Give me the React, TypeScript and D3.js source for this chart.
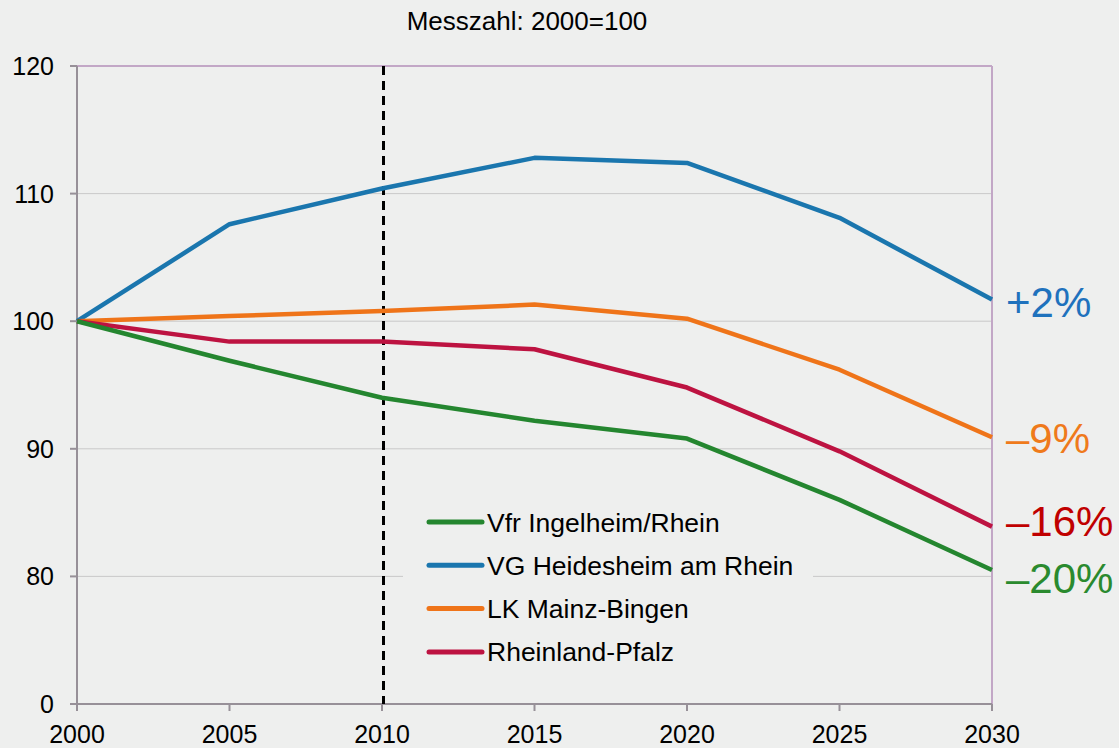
import React from "react";
import * as d3 from "d3";

const years = [2000, 2005, 2010, 2015, 2020, 2025, 2030];
const vfrIngelheim = [100, 96.9, 94.0, 92.2, 90.8, 86.0, 80.5];
const vgHeidesheim = [100, 107.6, 110.4, 112.8, 112.4, 108.1, 101.7];
const lkMainzBingen = [100, 100.4, 100.8, 101.3, 100.2, 96.2, 90.9];
const rheinlandPfalz = [100, 98.4, 98.4, 97.8, 94.8, 89.8, 83.9];
const yTickValues = [70, 80, 90, 100, 110, 120];
const yTickLabels = ["0", "80", "90", "100", "110", "120"];
const endLabels = ["\u201320%", "+2%", "\u20139%", "\u201316%"];
const seriesNames = ["Vfr Ingelheim/Rhein", "VG Heidesheim am Rhein", "LK Mainz-Bingen", "Rheinland-Pfalz"];

const series = [
  { name: seriesNames[0], values: vfrIngelheim, color: "#24862f", labelColor: "#2a8a2e", label: endLabels[0] },
  { name: seriesNames[1], values: vgHeidesheim, color: "#1a76ae", labelColor: "#1f72bd", label: endLabels[1] },
  { name: seriesNames[2], values: lkMainzBingen, color: "#ef7419", labelColor: "#ef7a1b", label: endLabels[2] },
  { name: seriesNames[3], values: rheinlandPfalz, color: "#bd1341", labelColor: "#c00000", label: endLabels[3] },
];

const labelOffsets: Record<string, number> = { "+2%": 17.5, "\u20139%": 15.5, "\u201316%": 9.5, "\u201320%": 23 };

export default function App() {
  const W = 1119, H = 748;
  const left = 77, right = 992, top = 66, bottom = 704;
  const x = d3.scaleLinear().domain([2000, 2030]).range([left, right]);
  const y = d3.scaleLinear().domain([70, 120]).range([bottom, top]);
  const line = d3.line<number>().x((_, i) => x(years[i])).y((v) => y(v));
  const font = "'Liberation Sans', Arial, sans-serif";

  return (
    <svg width={W} height={H} style={{ position: "absolute", left: 0, top: 0, background: "#eeefee" }} fontFamily={font}>
      <rect x={0} y={0} width={W} height={H} fill="#eeefee" />
      <text x={527} y={30} fontSize={26} textAnchor="middle" fill="#000">Messzahl: 2000=100</text>
      {yTickValues.slice(1, 5).map((v) => (
        <line key={v} x1={left} x2={right} y1={y(v)} y2={y(v)} stroke="#c9c9c9" strokeWidth={1} />
      ))}
      <line x1={left} x2={right} y1={top} y2={top} stroke="#c2a7c6" strokeWidth={2} />
      <line x1={right} x2={right} y1={top} y2={bottom} stroke="#c2a7c6" strokeWidth={2} />
      <line x1={left} x2={left} y1={top} y2={bottom + 7} stroke="#979098" strokeWidth={2} />
      <line x1={left - 7} x2={right} y1={bottom} y2={bottom} stroke="#979098" strokeWidth={2} />
      {yTickValues.map((v, i) => (
        <g key={v}>
          <line x1={left - 7} x2={left} y1={y(v)} y2={y(v)} stroke="#979098" strokeWidth={2} />
          <text x={54} y={y(v)} dy="0.36em" fontSize={25} textAnchor="end" fill="#000">{yTickLabels[i]}</text>
        </g>
      ))}
      {years.map((yr) => (
        <g key={yr}>
          <line x1={x(yr)} x2={x(yr)} y1={bottom} y2={bottom + 7} stroke="#979098" strokeWidth={2} />
          <text x={x(yr)} y={bottom + 39} fontSize={25} textAnchor="middle" fill="#000">{yr}</text>
        </g>
      ))}
      <line x1={x(2010) + 1.5} x2={x(2010) + 1.5} y1={top} y2={bottom} stroke="#000" strokeWidth={3} strokeDasharray="9,6" />
      <rect x={403} y={498} width={410} height={184} fill="#eeefee" />
      {[1, 2, 3, 0].map((si) => {
        const s = series[si];
        return <path key={s.name} d={line(s.values) || ""} fill="none" stroke={s.color} strokeWidth={4.5} strokeLinejoin="round" />;
      })}
      {series.map((s) => (
        <text key={s.label} x={1006} y={y(s.values[s.values.length - 1]) + labelOffsets[s.label]} fontSize={42} fill={s.labelColor}>{s.label}</text>
      ))}
      {series.map((s, i) => (
        <g key={s.name} transform={`translate(0, ${522 + i * 43.3})`}>
          <line x1={429} x2={482} y1={0} y2={0} stroke={s.color} strokeWidth={5} strokeLinecap="round" />
          <text x={487} y={0} dy="0.36em" fontSize={26.5} fill="#000">{s.name}</text>
        </g>
      ))}
    </svg>
  );
}
